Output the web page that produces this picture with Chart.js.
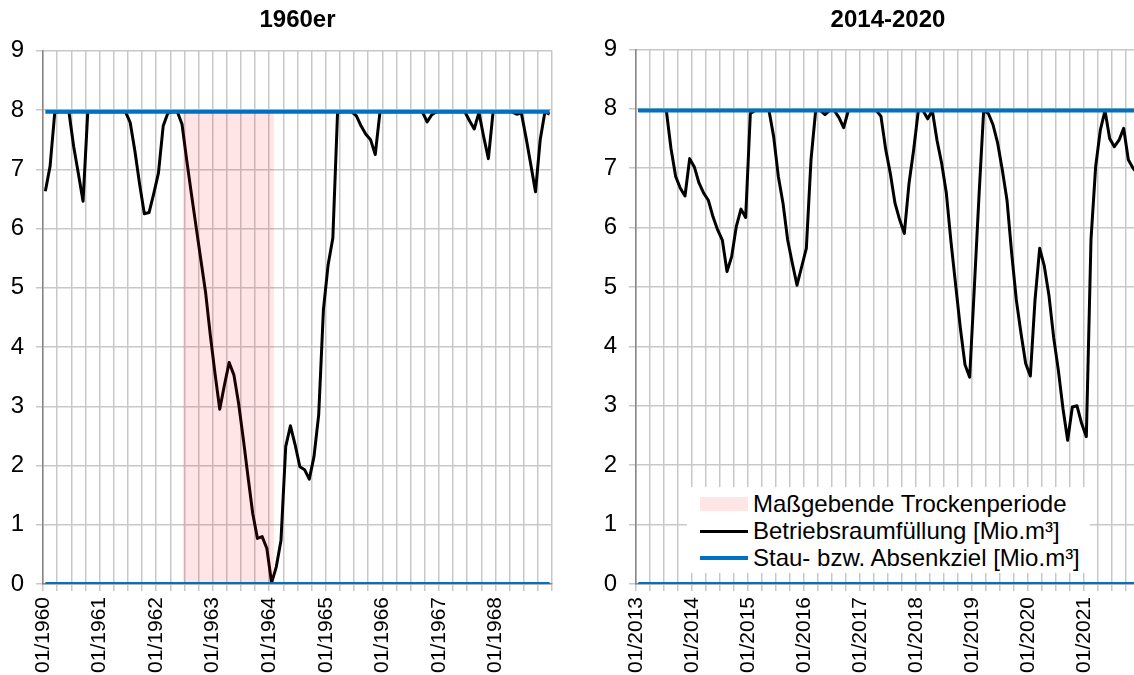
<!DOCTYPE html>
<html lang="de">
<head>
<meta charset="UTF-8">
<script src="https://cdn.jsdelivr.net/npm/chart.js"></script>
<title>Betriebsraumfüllung 1960er / 2014-2020</title>
<style>
  html, body { margin: 0; padding: 0; background: #fff; width: 1134px; height: 675px; overflow: hidden; }
  .chart-box { position: absolute; top: 0; }
  #box-1960 { left: 0; }
  #box-2013 { left: 567px; }
  #legend {
    position: absolute; left: 687px; top: 487px; width: 403px; height: 86px;
    background: #fff; font: 24px 'Liberation Sans', Arial, sans-serif; color: #000;
  }
  #legend .row { position: absolute; left: 0; height: 27px; line-height: 27px; white-space: nowrap; }
  #legend .swatch { position: absolute; left: 13px; width: 48px; }
  #legend .text { position: absolute; left: 66px; }
</style>
</head>
<body>
  <div class="chart-box" id="box-1960"><canvas id="chart-1960" width="567" height="675"></canvas></div>
  <div class="chart-box" id="box-2013"><canvas id="chart-2013" width="590" height="675"></canvas></div>
  <div id="legend"></div>

<script>
// monthly values (Mio. m³), first value = 01/1960
const fill1960 = [
  6.63, 7.05, 7.96, 7.97, 7.97, 7.97, 7.39, 6.93, 6.46, 7.97, 7.97, 7.97,
  7.97, 7.97, 7.97, 7.97, 7.97, 7.97, 7.79, 7.31, 6.75, 6.25, 6.27, 6.59,
  6.94, 7.73, 7.95, 7.97, 7.97, 7.76, 7.15, 6.58, 6.02, 5.47, 4.92, 4.2,
  3.55, 2.95, 3.36, 3.74, 3.53, 3.05, 2.45, 1.81, 1.19, 0.77, 0.8, 0.6,
  0.02, 0.29, 0.74, 2.32, 2.67, 2.35, 1.98, 1.93, 1.77, 2.15, 2.86, 4.63,
  5.39, 5.84, 7.96, 7.97, 7.97, 7.97, 7.9, 7.73, 7.59, 7.5, 7.25, 7.97,
  7.97, 7.97, 7.97, 7.97, 7.97, 7.97, 7.97, 7.97, 7.97, 7.8, 7.92, 7.97,
  7.97, 7.97, 7.97, 7.97, 7.97, 7.97, 7.82, 7.68, 7.96, 7.55, 7.18, 7.97,
  7.97, 7.97, 7.97, 7.97, 7.93, 7.95, 7.53, 7.08, 6.62, 7.5, 7.97, 7.93
];

// monthly values (Mio. m³), first value = 01/2013
const fill2013 = [
  7.97, 7.97, 7.97, 7.97, 7.97, 7.97, 7.97, 7.33, 6.86, 6.66, 6.53, 7.16,
  7.02, 6.75, 6.58, 6.46, 6.18, 5.96, 5.79, 5.26, 5.51, 6.02, 6.31, 6.17,
  7.92, 7.97, 7.97, 7.97, 7.97, 7.53, 6.86, 6.41, 5.79, 5.4, 5.03, 5.34,
  5.65, 7.14, 7.97, 7.97, 7.9, 7.97, 7.97, 7.85, 7.68, 7.97, 7.97, 7.97,
  7.97, 7.97, 7.97, 7.97, 7.87, 7.32, 6.91, 6.41, 6.13, 5.9, 6.74, 7.31,
  7.97, 7.97, 7.83, 7.97, 7.47, 7.08, 6.58, 5.76, 5.03, 4.31, 3.69, 3.48,
  4.99, 6.53, 7.97, 7.92, 7.73, 7.42, 6.97, 6.46, 5.57, 4.78, 4.22, 3.71,
  3.5, 4.78, 5.65, 5.35, 4.85, 4.15, 3.6, 2.95, 2.42, 2.98, 3.0, 2.7,
  2.48, 5.8, 7.03, 7.64, 7.97, 7.5, 7.36, 7.47, 7.67, 7.14, 7.0, 6.9
];

const stauziel = 7.97;
const absenkziel = 0;
// Maßgebende Trockenperiode, in months after 01/1960
const dryPeriod1960 = [29.6, 49.0];

const yearLabels1960 = ['01/1960', '01/1961', '01/1962', '01/1963', '01/1964', '01/1965', '01/1966', '01/1967', '01/1968'];
const yearLabels2013 = ['01/2013', '01/2014', '01/2015', '01/2016', '01/2017', '01/2018', '01/2019', '01/2020', '01/2021'];

const legendLabels = ['Maßgebende Trockenperiode', 'Betriebsraumfüllung [Mio.m³]', 'Stau- bzw. Absenkziel [Mio.m³]'];

const FONT = "'Liberation Sans', Arial, sans-serif";
const DRY_COLOR = 'rgba(255, 0, 0, 0.1)';
const FILL_COLOR = '#000000';
const TARGET_COLOR = '#0070c0';

// point at the middle of each month
function toPoints(values) {
    return values.map((v, i) => ({ x: i + 0.5, y: v }));
}

function flatLine(value, n) {
    return [{ x: 0.5, y: value }, { x: n - 0.5, y: value }];
}

function makeChart(canvasId, title, values, labels, yAxisWidth, padRight, titlePad, dryPeriod) {
    const n = values.length;
    const datasets = [];

    datasets.push({
        label: legendLabels[2], data: flatLine(stauziel, n),
        borderColor: TARGET_COLOR, borderWidth: 4, pointRadius: 0, order: 0
    });
    datasets.push({
        label: legendLabels[2], data: flatLine(absenkziel, n),
        borderColor: TARGET_COLOR, borderWidth: 4, pointRadius: 0, order: 0
    });
    if (dryPeriod) {
        datasets.push({
            label: legendLabels[0],
            data: dryPeriod.map(x => ({ x: x, y: stauziel })),
            borderWidth: 0, pointRadius: 0, fill: 'origin',
            backgroundColor: DRY_COLOR, order: 1
        });
    }
    datasets.push({
        label: legendLabels[1], data: toPoints(values),
        borderColor: FILL_COLOR, borderWidth: 3, borderJoinStyle: 'round',
        pointRadius: 0, tension: 0, order: 2
    });

    return new Chart(document.getElementById(canvasId), {
        type: 'line',
        data: { datasets: datasets },
        options: {
            responsive: false,
            animation: false,
            layout: { padding: { left: 0, right: padRight, top: 0, bottom: 0 } },
            plugins: {
                legend: { display: false },
                tooltip: { enabled: false },
                title: {
                    display: true, text: title, fullSize: false, color: '#000',
                    font: { family: FONT, size: 24, weight: 'bold' },
                    padding: titlePad
                }
            },
            scales: {
                x: {
                    type: 'linear', min: 0, max: 108,
                    afterFit: s => { s.height = 91; s.paddingLeft = 0; s.paddingRight = 0; },
                    grid: { color: '#c8c8c8', lineWidth: 1.5, tickLength: 7 },
                    border: { color: '#868686', width: 1.5 },
                    ticks: {
                        stepSize: 3, autoSkip: false, minRotation: 90, maxRotation: 90,
                        padding: 6, color: '#000', font: { family: FONT, size: 21 },
                        callback: v => (v % 12 === 0 && labels[v / 12]) ? labels[v / 12] : ''
                    }
                },
                y: {
                    min: 0, max: 9,
                    afterFit: s => { s.width = yAxisWidth; },
                    grid: { color: '#c8c8c8', lineWidth: 1.5, tickLength: 7 },
                    border: { color: '#868686', width: 1.5 },
                    ticks: { stepSize: 1, padding: 12, color: '#000', font: { family: FONT, size: 24 } }
                }
            }
        }
    });
}

makeChart('chart-1960', '1960er', fill1960, yearLabels1960, 43, 15, { top: 6, bottom: 16 }, dryPeriod1960);
makeChart('chart-2013', '2014-2020', fill2013, yearLabels2013, 69, 17, { top: 6, bottom: 14.5 }, null);

// legend drawn inside the right plot, bottom left
const legendEl = document.getElementById('legend');
const legendItems = [
    { text: legendLabels[0], color: DRY_COLOR, h: 14 },
    { text: legendLabels[1], color: FILL_COLOR, h: 3 },
    { text: legendLabels[2], color: TARGET_COLOR, h: 4 }
];
legendItems.forEach((item, i) => {
    const row = document.createElement('div');
    row.className = 'row';
    row.style.top = (3 + 27 * i) + 'px';
    const sw = document.createElement('span');
    sw.className = 'swatch';
    sw.style.height = item.h + 'px';
    sw.style.top = (14 - item.h / 2) + 'px';
    sw.style.background = item.color;
    const tx = document.createElement('span');
    tx.className = 'text';
    tx.textContent = item.text;
    row.appendChild(sw);
    row.appendChild(tx);
    legendEl.appendChild(row);
});
</script>
</body>
</html>
